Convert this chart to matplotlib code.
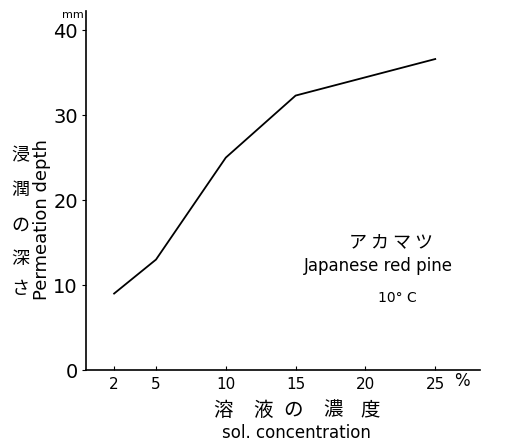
import matplotlib
matplotlib.use("Agg")
import matplotlib.pyplot as plt

# solution concentration (%) vs permeation depth (mm)
concentration = [2, 5, 10, 15, 25]
depth = [9.0, 13.0, 25.0, 32.3, 36.6]

x_ticks = [2, 5, 10, 15, 20, 25]
y_ticks = [0, 10, 20, 30, 40]

plt.rcParams['font.family'] = ['DejaVu Sans', 'Noto Sans CJK JP']
jp = ['Noto Sans CJK JP', 'DejaVu Sans']

fig = plt.figure(figsize=(5.1, 4.4), dpi=100)
ax = fig.add_axes([0.169, 0.159, 0.772, 0.815])

ax.plot(concentration, depth, color='black', linewidth=1.3)

ax.set_xlim(0, 28.2)
ax.set_ylim(0, 42.2)
ax.set_xticks(x_ticks)
ax.set_yticks(y_ticks)
ax.tick_params(axis='x', direction='in', length=3, labelsize=11, pad=5)
ax.tick_params(axis='y', direction='out', length=3, labelsize=14, pad=3)
for s in ['top', 'right']:
    ax.spines[s].set_visible(False)
for s in ['left', 'bottom']:
    ax.spines[s].set_linewidth(1.2)

# units
fig.text(0.142, 0.965, 'mm', fontsize=8, ha='center', va='center')
fig.text(0.905, 0.135, '%', fontsize=12, ha='center', va='center')

# y label: vertical Japanese plus rotated English
for ch, yy in zip('浸潤の深さ', [0.648, 0.568, 0.488, 0.412, 0.343]):
    fig.text(0.040, yy, ch, fontsize=13, ha='center', va='center', family=jp)
fig.text(0.083, 0.50, 'Permeation depth', fontsize=13, rotation=90,
         ha='center', va='center')

# x label, characters spread out
for ch, xx in zip('溶液の濃度', [0.437, 0.516, 0.575, 0.653, 0.725]):
    fig.text(xx, 0.068, ch, fontsize=14, ha='center', va='center', family=jp)
fig.text(0.581, 0.017, 'sol. concentration', fontsize=12, ha='center', va='center')

# annotation
ax.text(21.8, 15.1, 'ア カ マ ツ', fontsize=13, ha='center', va='center', family=jp)
ax.text(20.9, 12.2, 'Japanese red pine', fontsize=12, ha='center', va='center')
ax.text(22.3, 8.5, '10° C', fontsize=10, ha='center', va='center')

fig.savefig('out.png', dpi=100)
